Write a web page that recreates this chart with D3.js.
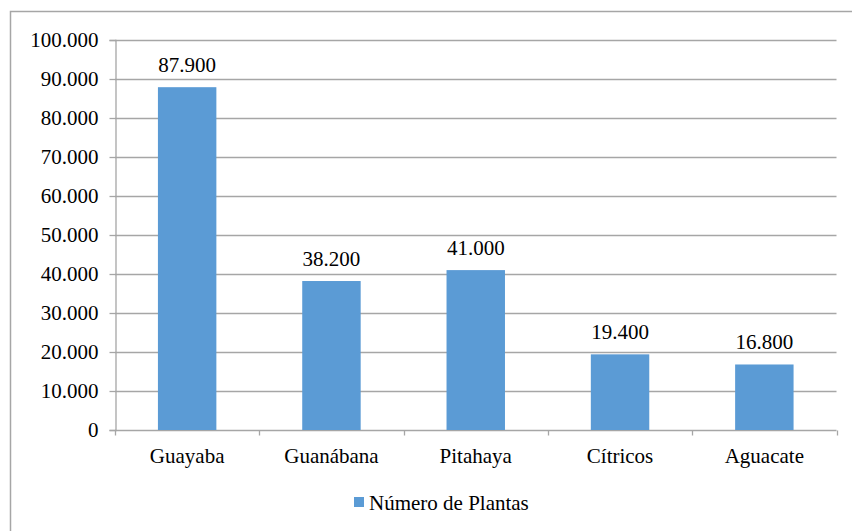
<!DOCTYPE html>
<html>
<head>
<meta charset="utf-8">
<script src="https://cdn.jsdelivr.net/npm/d3@7"></script>
<style>
  html, body { margin: 0; padding: 0; background: #fff; }
  svg { display: block; }
</style>
</head>
<body>
<svg id="chart" width="852" height="531"></svg>
<script>
// Plant counts per crop
const categories = ["Guayaba", "Guanábana", "Pitahaya", "Cítricos", "Aguacate"];
const plantas = [87900, 38200, 41000, 19400, 16800];
const yTicks = [0, 10000, 20000, 30000, 40000, 50000, 60000, 70000, 80000, 90000, 100000];
const seriesName = "Número de Plantas";

const svg = d3.select("#chart");
const W = 852, H = 531;
const plot = { left: 115, right: 836.5, top: 40, bottom: 430 };
const gridColor = "#a6a6a6";
const barColor = "#5b9bd5";
const fontFamily = "Liberation Serif";
const fontSize = 21;

// Spanish-style thousands separator
const fmt = v => v === 0 ? "0" : d3.format(",")(v).replace(/,/g, ".");

const styleText = sel => sel
  .attr("font-family", fontFamily)
  .attr("font-size", fontSize)
  .attr("fill", "#000");

// Outer chart border
svg.append("rect")
  .attr("x", 10.5).attr("y", 11.5)
  .attr("width", W + 10).attr("height", H + 10)
  .attr("fill", "none").attr("stroke", gridColor).attr("stroke-width", 1.5);

const x = d3.scaleBand().domain(categories).range([plot.left, plot.right]).padding(0);
const y = d3.scaleLinear().domain([0, 100000]).range([plot.bottom, plot.top]);

// Horizontal gridlines
svg.append("g").selectAll("line")
  .data(yTicks.filter(t => t > 0))
  .join("line")
  .attr("x1", plot.left).attr("x2", plot.right)
  .attr("y1", d => Math.round(y(d)) + 0.5).attr("y2", d => Math.round(y(d)) + 0.5)
  .attr("stroke", gridColor).attr("stroke-width", 1.3);

// Y axis
const yAxis = svg.append("g")
  .attr("transform", `translate(${plot.left + 0.5},0)`)
  .call(d3.axisLeft(y).tickValues(yTicks).tickFormat(fmt).tickSize(6).tickPadding(11));
yAxis.attr("font-family", fontFamily).attr("font-size", fontSize);
yAxis.select(".domain").attr("stroke", gridColor).attr("stroke-width", 1.3);
yAxis.selectAll(".tick line").attr("stroke", gridColor).attr("stroke-width", 1.3);
yAxis.selectAll(".tick text").call(styleText);

// X axis with ticks at category boundaries
const xAxisG = svg.append("g").attr("transform", `translate(0,${Math.round(y(0)) + 0.5})`);
xAxisG.append("line")
  .attr("x1", plot.left).attr("x2", plot.right)
  .attr("stroke", gridColor).attr("stroke-width", 1.3);
const bounds = categories.map(c => x(c)).concat([x(categories[categories.length - 1]) + x.bandwidth()]);
xAxisG.selectAll("line.tk")
  .data(bounds)
  .join("line").attr("class", "tk")
  .attr("x1", d => Math.round(d) + 0.5).attr("x2", d => Math.round(d) + 0.5)
  .attr("y1", 0).attr("y2", 5)
  .attr("stroke", gridColor).attr("stroke-width", 1.3);
xAxisG.selectAll("text")
  .data(categories)
  .join("text")
  .attr("x", d => x(d) + x.bandwidth() / 2)
  .attr("y", 32)
  .attr("text-anchor", "middle")
  .call(styleText)
  .text(d => d);

// Bars
const barW = x.bandwidth() * 0.405;
const data = categories.map((c, i) => ({ c, v: plantas[i] }));
svg.append("g").selectAll("rect")
  .data(data)
  .join("rect")
  .attr("x", d => x(d.c) + (x.bandwidth() - barW) / 2)
  .attr("y", d => y(d.v))
  .attr("width", barW)
  .attr("height", d => y(0) - y(d.v))
  .attr("fill", barColor);

// Value labels
svg.append("g").selectAll("text")
  .data(data)
  .join("text")
  .attr("x", d => x(d.c) + x.bandwidth() / 2)
  .attr("y", d => y(d.v) - 15)
  .attr("text-anchor", "middle")
  .call(styleText)
  .text(d => fmt(d.v));

// Legend
const lg = svg.append("g").attr("transform", "translate(354,497)");
lg.append("rect").attr("width", 10).attr("height", 10).attr("fill", barColor);
lg.append("text").attr("x", 15).attr("y", 12.5)
  .call(styleText).text(seriesName);
</script>
</body>
</html>
